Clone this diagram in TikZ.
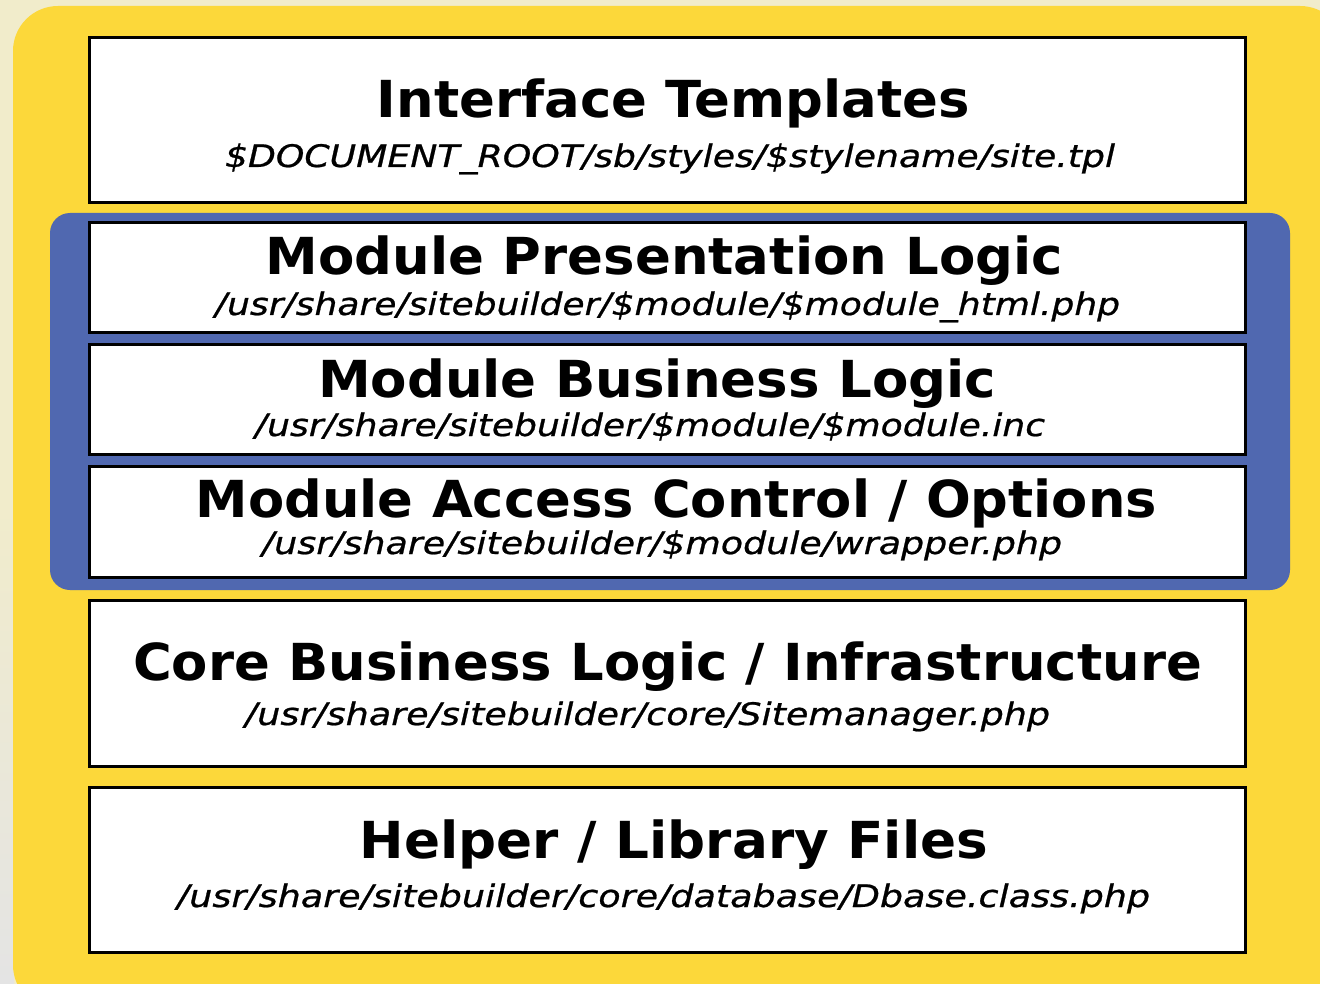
\documentclass[tikz,border=0pt]{standalone}
\usepackage{fontspec}
\setmainfont{DejaVu Sans}
\newfontfamily\pathfont[FakeBold=0.7]{DejaVu Sans}
\usepackage{graphicx}
\definecolor{bgbeige}{HTML}{F1ECCB}
\definecolor{bggray}{HTML}{E4E4E4}
\definecolor{panelyellow}{HTML}{FCD83A}
\definecolor{panelblue}{HTML}{5068B0}
\tikzset{
  layer/.style={draw=black, fill=white, line width=3pt, inner sep=0pt},
  title/.style={anchor=base, inner sep=0pt, font=\fontsize{51}{51}\selectfont\bfseries},
  path/.style={anchor=base, inner sep=0pt, font=\fontsize{31}{31}\pathfont\itshape},
}
\newcommand{\wtext}[2]{\resizebox{#1pt}{\height}{#2}}
\begin{document}
\begin{tikzpicture}[x=1pt,y=-1pt]
\useasboundingbox (0,0) rectangle (1320,984);
% background
\fill[bgbeige] (0,0) rectangle (1320,984);
\shade[top color=bgbeige, bottom color=bggray] (0,500) rectangle (14,984);
% yellow panel
\fill[panelyellow, rounded corners=45pt] (13,6) rectangle (1345,1010);
% blue panel
\fill[panelblue, rounded corners=20pt] (50,213) rectangle (1290,590);
% layers
\node[layer, minimum width=1156pt, minimum height=165pt] (L1) at (667,120.5) {};
\node[layer, minimum width=1156pt, minimum height=110pt] (L2) at (667,278) {};
\node[layer, minimum width=1156pt, minimum height=110pt] (L3) at (667,399) {};
\node[layer, minimum width=1156pt, minimum height=111pt] (L4) at (667,522) {};
\node[layer, minimum width=1156pt, minimum height=166pt] (L5) at (667,683) {};
\node[layer, minimum width=1156pt, minimum height=165pt] (L6) at (667,869.5) {};
% texts
\node[title] (t1) at (673.5,118) {\wtext{593}{Interface Templates}};
\node[path]  (p1) at (670,167) {\wtext{890}{\$DOCUMENT\_ROOT/sb/styles/\$stylename/site.tpl}};
\node[title] (t2) at (664.5,275) {\wtext{797}{Module Presentation Logic}};
\node[path]  (p2) at (667.5,315) {\wtext{905}{/usr/share/sitebuilder/\$module/\$module\_html.php}};
\node[title] (t3) at (657,397) {\wtext{678}{Module Business Logic}};
\node[path]  (p3) at (650,436) {\wtext{790}{/usr/share/sitebuilder/\$module/\$module.inc}};
\node[title] (t4) at (676.5,517) {\wtext{961}{Module Access Control / Options}};
\node[path]  (p4) at (662,554) {\wtext{800}{/usr/share/sitebuilder/\$module/wrapper.php}};
\node[title] (t5) at (667.5,680) {\wtext{1069}{Core Business Logic / Infrastructure}};
\node[path]  (p5) at (647.5,725) {\wtext{805}{/usr/share/sitebuilder/core/Sitemanager.php}};
\node[title] (t6) at (674,858) {\wtext{628}{Helper / Library Files}};
\node[path]  (p6) at (663.5,907) {\wtext{973}{/usr/share/sitebuilder/core/database/Dbase.class.php}};
\end{tikzpicture}
\end{document}
